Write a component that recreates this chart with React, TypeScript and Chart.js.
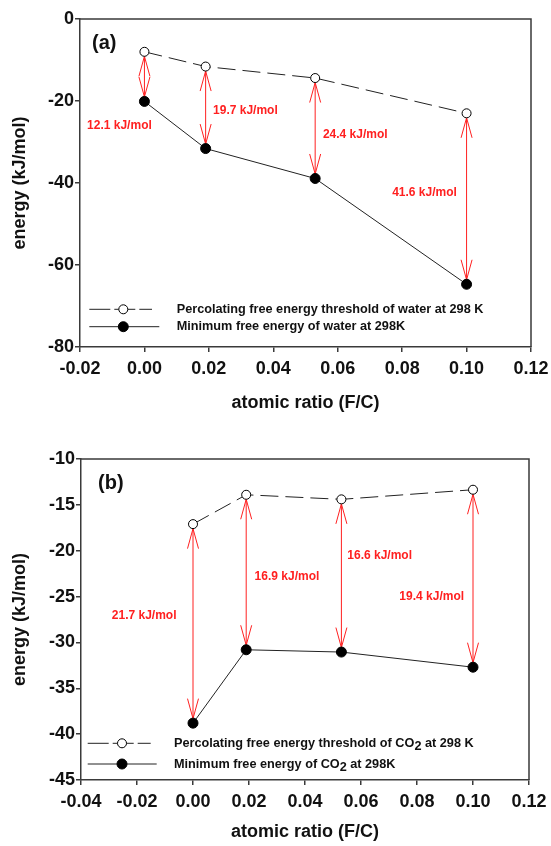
import React, { useEffect, useRef } from "react";
import { Chart, registerables } from "chart.js";

Chart.register(...registerables);
Chart.defaults.font.family = "'Liberation Sans', Arial, sans-serif";

// ---------- Panel (a): water ----------
const ratioA = [0.0, 0.019, 0.053, 0.1];
const thresholdA = [-8.0, -11.6, -14.4, -23.0];
const minimumA = [-20.1, -31.6, -38.9, -64.7];
const gapTextA = ["12.1 kJ/mol", "19.7 kJ/mol", "24.4 kJ/mol", "41.6 kJ/mol"];
const gapAtXA = [-0.0178, 0.0213, 0.0554, 0.0769];
const gapAtYA = [-26.1, -22.4, -28.3, -42.4];
const legendA = [
  "Percolating free energy threshold of water at 298 K",
  "Minimum free energy of water at 298K",
];
const xTicksA = { min: -0.02, max: 0.12, step: 0.02 };
const yTicksA = { min: -80, max: 0, step: 20 };

// ---------- Panel (b): CO2 ----------
const ratioB = [0.0, 0.019, 0.053, 0.1];
const thresholdB = [-17.1, -13.9, -14.4, -13.35];
const minimumB = [-38.8, -30.8, -31.05, -32.7];
const gapTextB = ["21.7 kJ/mol", "16.9 kJ/mol", "16.6 kJ/mol", "19.4 kJ/mol"];
const gapAtXB = [-0.029, 0.022, 0.0551, 0.0737];
const gapAtYB = [-27.1, -22.87, -20.58, -25.0];
const legendB = [
  "Percolating free energy threshold of CO\u2082 at 298 K",
  "Minimum free energy of CO\u2082 at 298K",
];
const xTicksB = { min: -0.04, max: 0.12, step: 0.02 };
const yTicksB = { min: -45, max: -10, step: 5 };

const AXIS = "#3a3a3a";
const INK = "#111111";
const RED = "#ff2020";
const FAM = "'Liberation Sans', Arial, sans-serif";

type PanelCfg = {
  tag: string;
  ratio: number[];
  threshold: number[];
  minimum: number[];
  gapText: string[];
  gapAtX: number[];
  gapAtY: number[];
  legend: string[];
  xT: { min: number; max: number; step: number };
  yT: { min: number; max: number; step: number };
  width: number;
  height: number;
  padding: { left: number; right: number; top: number; bottom: number };
  yWidth: number;
  xHeight: number;
  xTitlePad: number;
  yTitlePad: number;
  tagDx: number;
  tagDy: number;
  leg: {
    row1: number;
    row2: number;
    x0: number;
    x1Dash: number;
    x1Solid: number;
    xm: number;
    xt: number;
  };
};

function drawRichText(ctx: CanvasRenderingContext2D, text: string, x: number, y: number) {
  const parts = text.split("\u2082");
  let cx = x;
  parts.forEach((p, i) => {
    ctx.fillText(p, cx, y);
    cx += ctx.measureText(p).width;
    if (i < parts.length - 1) {
      ctx.fillText("2", cx, y + 3.5);
      cx += ctx.measureText("2").width;
    }
  });
}

function makePlugin(cfg: PanelCfg) {
  return {
    id: "panelDecor",
    beforeDatasetsDraw(chart: any) {
      const ctx: CanvasRenderingContext2D = chart.ctx;
      const xs = chart.scales.x;
      const ys = chart.scales.y;
      const r = 4.5;
      const headLen = 20;
      const headHalf = 5.5;
      ctx.save();
      ctx.strokeStyle = RED;
      ctx.lineWidth = 1;
      cfg.ratio.forEach((xv, i) => {
        const px = xs.getPixelForValue(xv);
        const yTop = ys.getPixelForValue(cfg.threshold[i]) + r;
        const yBot = ys.getPixelForValue(cfg.minimum[i]) - r;
        ctx.beginPath();
        ctx.moveTo(px, yTop);
        ctx.lineTo(px, yBot);
        ctx.moveTo(px - headHalf, yTop + headLen);
        ctx.lineTo(px, yTop);
        ctx.lineTo(px + headHalf, yTop + headLen);
        ctx.moveTo(px - headHalf, yBot - headLen);
        ctx.lineTo(px, yBot);
        ctx.lineTo(px + headHalf, yBot - headLen);
        ctx.stroke();
      });
      ctx.restore();
    },
    afterDatasetsDraw(chart: any) {
      const ctx: CanvasRenderingContext2D = chart.ctx;
      const ca = chart.chartArea;
      const xs = chart.scales.x;
      const ys = chart.scales.y;
      ctx.save();
      ctx.strokeStyle = AXIS;
      ctx.lineWidth = 1.5;
      ctx.beginPath();
      ctx.moveTo(ca.left, ca.top);
      ctx.lineTo(ca.right, ca.top);
      ctx.lineTo(ca.right, ca.bottom);
      ctx.stroke();

      ctx.fillStyle = RED;
      ctx.font = `bold 12px ${FAM}`;
      ctx.textBaseline = "middle";
      ctx.textAlign = "left";
      cfg.gapText.forEach((t, i) => {
        ctx.fillText(t, xs.getPixelForValue(cfg.gapAtX[i]), ys.getPixelForValue(cfg.gapAtY[i]));
      });

      ctx.fillStyle = INK;
      ctx.font = `bold 20px ${FAM}`;
      ctx.fillText(cfg.tag, ca.left + cfg.tagDx, ca.top + cfg.tagDy);

      const L = cfg.leg;
      const rows = [ca.bottom - L.row1, ca.bottom - L.row2];
      chart.data.datasets.forEach((ds: any, i: number) => {
        const y = rows[i];
        const dashed = ds.borderDash && ds.borderDash.length;
        ctx.strokeStyle = "#222";
        ctx.lineWidth = 1;
        ctx.setLineDash(dashed ? [21, 4] : []);
        ctx.beginPath();
        ctx.moveTo(ca.left + L.x0, y);
        ctx.lineTo(ca.left + (dashed ? L.x1Dash : L.x1Solid), y);
        ctx.stroke();
        ctx.setLineDash([]);
        ctx.beginPath();
        ctx.arc(ca.left + L.xm, y, ds.pointRadius, 0, Math.PI * 2);
        ctx.fillStyle = ds.pointBackgroundColor;
        ctx.fill();
        ctx.strokeStyle = "#000";
        ctx.stroke();
        ctx.fillStyle = INK;
        ctx.font = `bold 12.7px ${FAM}`;
        ctx.textBaseline = "middle";
        drawRichText(ctx, ds.label, ca.left + L.xt, y);
      });
      ctx.restore();
    },
  };
}

function fmtX(v: any) {
  const n = Number(v);
  return (Math.abs(n) < 1e-9 ? 0 : n).toFixed(2);
}

function Panel({ cfg }: { cfg: PanelCfg }) {
  const ref = useRef<HTMLCanvasElement>(null);
  useEffect(() => {
    const canvas = ref.current!;
    const tickFont = { family: FAM, size: 18, weight: "bold" as const };
    const titleFont = { family: FAM, size: 18, weight: "bold" as const };
    const chart = new Chart(canvas, {
      type: "line",
      data: {
        datasets: [
          {
            label: cfg.legend[0],
            data: cfg.ratio.map((x, i) => ({ x, y: cfg.threshold[i] })),
            borderColor: "#222",
            borderWidth: 1,
            borderDash: [18, 7],
            pointRadius: 4.5,
            pointBackgroundColor: "#ffffff",
            pointBorderColor: "#000",
            pointBorderWidth: 1,
            tension: 0,
            fill: false,
          },
          {
            label: cfg.legend[1],
            data: cfg.ratio.map((x, i) => ({ x, y: cfg.minimum[i] })),
            borderColor: "#222",
            borderWidth: 1,
            pointRadius: 5,
            pointBackgroundColor: "#000000",
            pointBorderColor: "#000",
            pointBorderWidth: 1,
            tension: 0,
            fill: false,
          },
        ],
      },
      options: {
        responsive: false,
        animation: false,
        events: [],
        layout: { padding: cfg.padding },
        plugins: { legend: { display: false }, tooltip: { enabled: false } },
        scales: {
          x: {
            type: "linear",
            min: cfg.xT.min,
            max: cfg.xT.max,
            ticks: {
              stepSize: cfg.xT.step,
              callback: fmtX,
              font: tickFont,
              color: INK,
              padding: 6,
              maxRotation: 0,
              autoSkip: false,
            },
            grid: { drawOnChartArea: false, drawTicks: true, tickLength: 5, color: AXIS, lineWidth: 1.5 },
            border: { display: true, color: AXIS, width: 1.5 },
            title: {
              display: true,
              text: "atomic ratio (F/C)",
              font: titleFont,
              color: INK,
              padding: { top: 0, bottom: cfg.xTitlePad },
            },
            afterFit: (s: any) => {
              s.height = cfg.xHeight;
              s.paddingLeft = 0;
              s.paddingRight = 0;
            },
          },
          y: {
            type: "linear",
            min: cfg.yT.min,
            max: cfg.yT.max,
            ticks: {
              stepSize: cfg.yT.step,
              callback: (v: any) => String(Math.round(Number(v))),
              font: tickFont,
              color: INK,
              padding: 1,
              autoSkip: false,
            },
            grid: { drawOnChartArea: false, drawTicks: true, tickLength: 5, color: AXIS, lineWidth: 1.5 },
            border: { display: true, color: AXIS, width: 1.5 },
            title: {
              display: true,
              text: "energy (kJ/mol)",
              font: titleFont,
              color: INK,
              padding: { top: cfg.yTitlePad, bottom: 0 },
            },
            afterFit: (s: any) => {
              s.width = cfg.yWidth;
              s.paddingTop = 0;
              s.paddingBottom = 0;
            },
          },
        },
      },
      plugins: [makePlugin(cfg)],
    } as any);
    return () => chart.destroy();
  }, [cfg]);
  return (
    <canvas
      ref={ref}
      width={cfg.width}
      height={cfg.height}
      style={{ display: "block", width: cfg.width, height: cfg.height }}
    />
  );
}

const cfgA: PanelCfg = {
  tag: "(a)",
  ratio: ratioA,
  threshold: thresholdA,
  minimum: minimumA,
  gapText: gapTextA,
  gapAtX: gapAtXA,
  gapAtY: gapAtYA,
  legend: legendA,
  xT: xTicksA,
  yT: yTicksA,
  width: 551,
  height: 420,
  padding: { left: 0, right: 20, top: 19, bottom: 0 },
  yWidth: 80,
  xHeight: 73,
  xTitlePad: 6,
  yTitlePad: 9,
  tagDx: 12,
  tagDy: 24,
  leg: { row1: 37.7, row2: 20.3, x0: 9.3, x1Dash: 72, x1Solid: 79.3, xm: 43.3, xt: 96.7 },
};

const cfgB: PanelCfg = {
  tag: "(b)",
  ratio: ratioB,
  threshold: thresholdB,
  minimum: minimumB,
  gapText: gapTextB,
  gapAtX: gapAtXB,
  gapAtY: gapAtYB,
  legend: legendB,
  xT: xTicksB,
  yT: yTicksB,
  width: 551,
  height: 426,
  padding: { left: 0, right: 22, top: 39, bottom: 0 },
  yWidth: 81,
  xHeight: 66,
  xTitlePad: 3,
  yTitlePad: 9,
  tagDx: 17,
  tagDy: 24,
  leg: { row1: 36.7, row2: 16, x0: 6.7, x1Dash: 69.7, x1Solid: 75.7, xm: 41, xt: 93 },
};

export default function App() {
  return (
    <div style={{ position: "absolute", left: 0, top: 0, width: 551, height: 846, background: "#fff" }}>
      <Panel cfg={cfgA} />
      <Panel cfg={cfgB} />
    </div>
  );
}
